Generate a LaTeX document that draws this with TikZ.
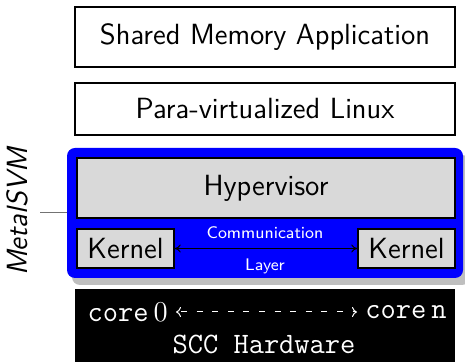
\documentclass[tikz,border=0pt]{standalone}
\usetikzlibrary{arrows.meta}
\begin{document}
\begin{tikzpicture}[x=0.5pt,y=-0.5pt,
  font=\sffamily\fontsize{14.6}{17}\selectfont,
  layerbox/.style={draw=black, line width=0.7pt, fill=white, inner sep=0pt,
    minimum width=190pt},
  greybox/.style={draw=black, line width=0.7pt, fill=black!15, inner sep=0pt},
  smalllabel/.style={text=white, font=\sffamily\fontsize{8.4}{10}\selectfont, inner sep=0pt},
  ttlabel/.style={text=white, font=\ttfamily\fontsize{14.8}{17}\selectfont, inner sep=0pt}]
\useasboundingbox (0,0) rectangle (465,362);

% upper software layers
\node[layerbox, minimum height=30pt] (app) at (265,37) {Shared Memory Application};
\node[layerbox, minimum height=26pt] (linux) at (265,109) {Para-virtualized Linux};

% MetalSVM container with its shadow
\fill[black!25, rounded corners=4pt] (72,155) rectangle (470,285);
\node[fill=blue, rounded corners=4pt, inner sep=0pt, minimum width=198pt,
  minimum height=65pt] (svm) at (265,213) {};
\node[greybox, minimum width=189pt, minimum height=30pt] (hyp) at (266,188) {Hypervisor};
\node[greybox, minimum width=48.5pt, minimum height=19.5pt] (kl) at (125.5,248.5) {Kernel};
\node[greybox, minimum width=48.5pt, minimum height=19.5pt] (kr) at (406.5,248.5) {Kernel};
\draw[{To[length=3pt,width=4pt]}-{To[length=3pt,width=4pt]}, line width=0.5pt] (kl) -- (kr);
\node[smalllabel] (comm) at (265,233) {Communication};
\node[smalllabel] (layer) at (265,266) {Layer};

% side label
\node[rotate=90, font=\sffamily\itshape\fontsize{14.6}{17}\selectfont, inner sep=0pt] (name) at (17,212) {MetalSVM};
\coordinate (tick) at (40,213);
\draw[black!55, line width=0.5pt] (tick) -- (svm.west);

% hardware
\fill[black] (75,289) rectangle (455,366);
\node[ttlabel, anchor=east] (c0) at (168,312) {core\,$0$};
\node[ttlabel, anchor=west] (cn) at (365,312) {core\,n};
\draw[white, line width=0.5pt, dash pattern=on 3pt off 4.8pt, dash phase=-2pt,
  {Computer Modern Rightarrow[length=2.5pt,width=5pt]}-{Computer Modern Rightarrow[length=2.5pt,width=5pt]}]
  ([xshift=4pt]c0.east) -- ([xshift=-4pt]cn.west);
\node[ttlabel] (scc) at (264,344) {SCC Hardware};
\end{tikzpicture}
\end{document}
